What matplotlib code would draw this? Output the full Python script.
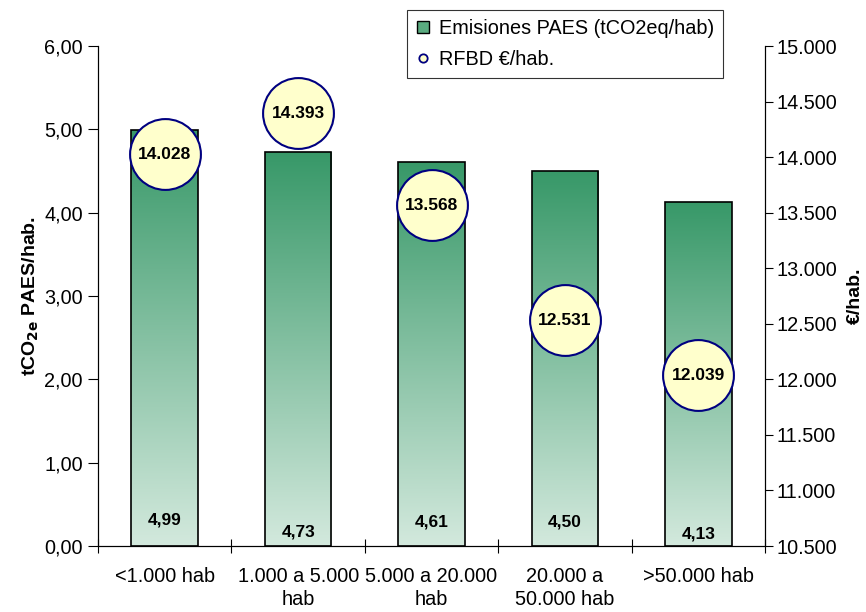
import matplotlib
matplotlib.use("Agg")
import matplotlib.pyplot as plt
import numpy as np
from matplotlib.colors import LinearSegmentedColormap
from matplotlib.patches import Rectangle
from matplotlib.lines import Line2D
from matplotlib.legend_handler import HandlerBase
from matplotlib.ticker import FuncFormatter, MultipleLocator

plt.rcParams['font.family'] = ['Liberation Sans', 'DejaVu Sans']

categories = ["<1.000 hab", "1.000 a 5.000\nhab", "5.000 a 20.000\nhab",
              "20.000 a\n50.000 hab", ">50.000 hab"]
emisiones = [4.99, 4.73, 4.61, 4.50, 4.13]
rfbd = [14028, 14393, 13568, 12531, 12039]
emis_labels = ["4,99", "4,73", "4,61", "4,50", "4,13"]
rfbd_labels = ["14.028", "14.393", "13.568", "12.531", "12.039"]
label_y = [0.31, 0.17, 0.29, 0.29, 0.14]

green_top = "#379868"
green_bot = "#d3e9dd"
cmap = LinearSegmentedColormap.from_list("bar_grad", [green_bot, green_top])

TXT = 14.3

fig = plt.figure(figsize=(8.66, 6.12), dpi=100)
ax = fig.add_axes([0.1132, 0.1078, 0.7702, 0.817])
ax2 = ax.twinx()

x = np.arange(len(categories))
width = 0.5

ax.set_xlim(-0.5, len(categories) - 0.5)
ax.set_ylim(0, 6)
ax2.set_ylim(10500, 15000)

grad = np.linspace(0, 1, 256).reshape(-1, 1)
for xi, v in zip(x, emisiones):
    im = ax.imshow(grad, cmap=cmap, aspect='auto', origin='lower',
                   extent=(xi - width / 2, xi + width / 2, 0, v), zorder=2)
    rect = Rectangle((xi - width / 2, 0), width, v, facecolor='none',
                     edgecolor='black', linewidth=1.2, zorder=3)
    ax.add_patch(rect)
    im.set_clip_path(rect)

for xi, y, t in zip(x, label_y, emis_labels):
    ax.text(xi, y, t, ha='center', va='center', fontsize=12.5,
            fontweight='bold', zorder=4)

ax2.plot(x, rfbd, linestyle='none', marker='o', markersize=51,
         markerfacecolor='#ffffcc', markeredgecolor='#000080',
         markeredgewidth=1.5, zorder=5)
for xi, v, t in zip(x, rfbd, rfbd_labels):
    ax2.text(xi, v, t, ha='center', va='center', fontsize=12.5,
             fontweight='bold', zorder=6)

ax.set_xticks(np.arange(len(categories) + 1) - 0.5)
ax.set_xticklabels([])
ax.set_xticks(x, minor=True)
ax.set_xticklabels(categories, minor=True, fontsize=TXT, linespacing=1.3)
ax.tick_params(axis='x', which='major', direction='inout', length=10, width=0.8)
ax.tick_params(axis='x', which='minor', length=0, pad=15)

ax.yaxis.set_major_locator(MultipleLocator(1))
ax.yaxis.set_major_formatter(FuncFormatter(lambda v, p: f"{v:.2f}".replace('.', ',')))
ax.tick_params(axis='y', direction='out', length=7, width=0.8, labelsize=TXT, pad=4)

ax2.yaxis.set_major_locator(MultipleLocator(500))
ax2.yaxis.set_major_formatter(FuncFormatter(lambda v, p: f"{int(v):,}".replace(',', '.')))
ax2.tick_params(axis='y', direction='out', length=6, width=0.8, labelsize=TXT, pad=2)

for a in (ax, ax2):
    a.spines['top'].set_visible(False)
    for s in ('left', 'right', 'bottom'):
        a.spines[s].set_linewidth(0.8)

ax.set_ylabel(r"tCO$_{\mathbf{2e}}$ PAES/hab.", fontsize=14, fontweight='bold')
ax.yaxis.set_label_coords(-0.085, 0.5)
ax2.set_ylabel("€/hab.", fontsize=14, fontweight='bold', rotation=90)
ax2.yaxis.set_label_coords(1.123, 0.5)


class GradientSquareHandler(HandlerBase):
    def create_artists(self, legend, orig_handle, xdescent, ydescent,
                       width, height, fontsize, trans):
        s = 9
        x0 = xdescent + width / 2 - s / 2
        y0 = ydescent + height / 2 - s / 2
        r = Rectangle((x0, y0), s, s, facecolor='#5aab80', edgecolor='black',
                      linewidth=1.0, transform=trans)
        return [r]


sq = Rectangle((0, 0), 1, 1)
circ = Line2D([], [], linestyle='none', marker='o', markersize=6,
              markerfacecolor='#ffffcc', markeredgecolor='#000080',
              markeredgewidth=1.3)
leg = fig.legend([sq, circ], ["Emisiones PAES (tCO2eq/hab)", "RFBD €/hab."],
                 handler_map={Rectangle: GradientSquareHandler()},
                 loc='upper left', bbox_to_anchor=(407 / 866, 1 - 10 / 612),
                 fontsize=TXT, frameon=True, fancybox=False, edgecolor='black',
                 handlelength=0.7, handletextpad=0.45, borderpad=0.45,
                 labelspacing=0.6, borderaxespad=0)
leg.get_frame().set_linewidth(0.8)

fig.savefig("out.png", dpi=100)
